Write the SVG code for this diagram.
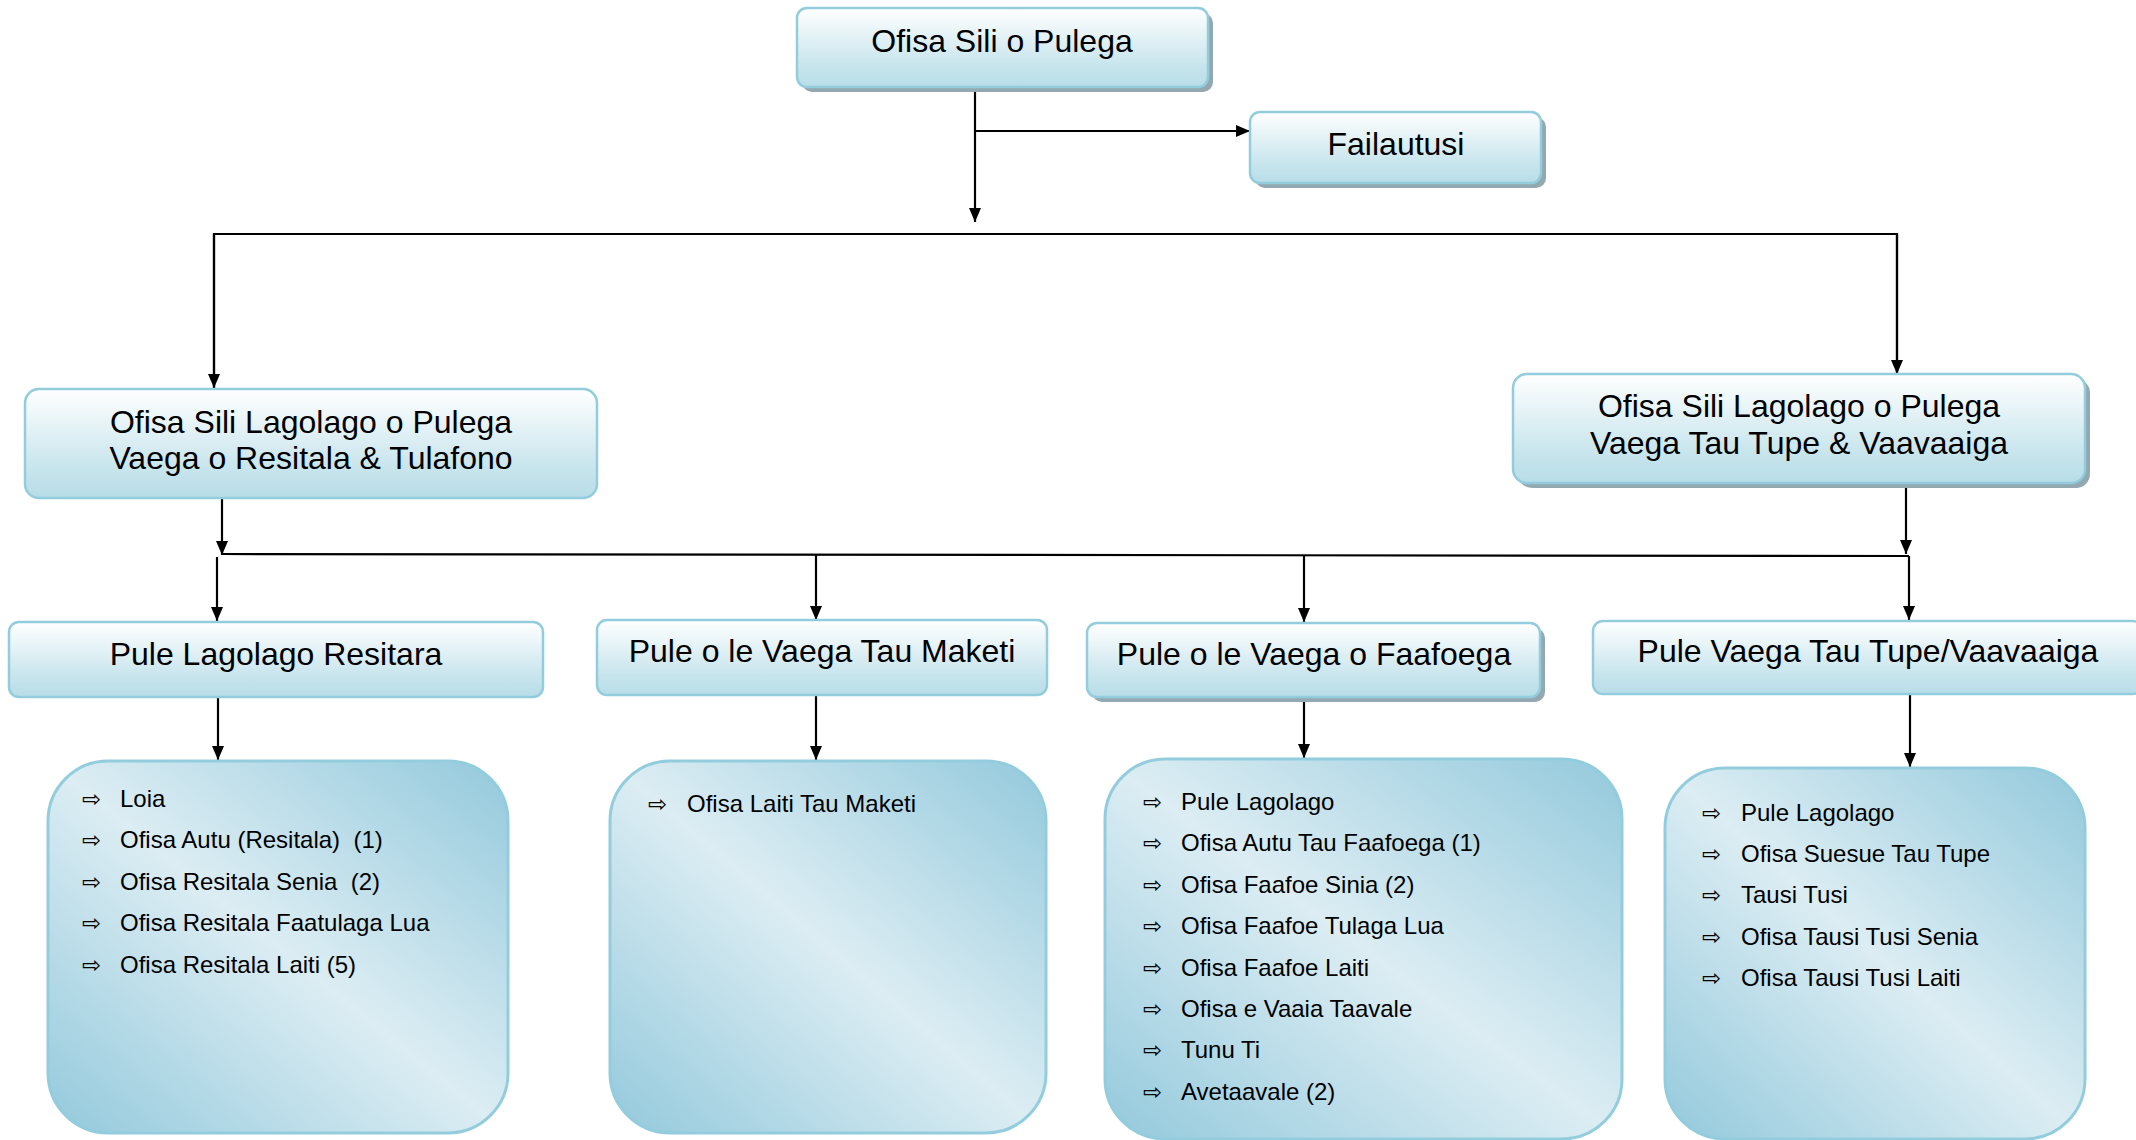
<svg xmlns="http://www.w3.org/2000/svg" width="2136" height="1140" viewBox="0 0 2136 1140">
<defs>
<linearGradient id="hg" x1="0" y1="0" x2="0" y2="1">
<stop offset="0" stop-color="#ffffff"/>
<stop offset="0.75" stop-color="#c6e4ec"/>
<stop offset="1" stop-color="#b8dde8"/>
</linearGradient>
<linearGradient id="lg" x1="1" y1="0" x2="0" y2="1">
<stop offset="0" stop-color="#93c9dc"/>
<stop offset="0.5" stop-color="#dcedf3"/>
<stop offset="1" stop-color="#93c9dc"/>
</linearGradient>
<marker id="ah" viewBox="0 0 14 12" refX="14" refY="6" markerWidth="14" markerHeight="12" markerUnits="userSpaceOnUse" orient="auto">
<path d="M0,0 L14,6 L0,12 z" fill="#000"/>
</marker>
</defs>
<style>
.hb{fill:url(#hg);stroke:#93cddd;stroke-width:2.5}
.sh{fill:#93a8b0}
.lb{fill:url(#lg);stroke:#93cddd;stroke-width:3}
.ht{font-family:"Liberation Sans",Arial,sans-serif;font-size:32px;fill:#000;text-anchor:middle}
.li{font-family:"Liberation Sans",Arial,sans-serif;font-size:24px;fill:#000;white-space:pre}
.bu{font-family:"DejaVu Sans",sans-serif;font-size:23px;fill:#000}
.cn{fill:none;stroke:#000;stroke-width:2.2}
.ar{marker-end:url(#ah)}
</style>
<rect width="2136" height="1140" fill="#ffffff"/>

<g id="connectors">
<line class="cn ar" x1="975" y1="87" x2="975" y2="222"/>
<line class="cn ar" x1="975" y1="131" x2="1250" y2="131"/>
<polyline class="cn" points="214,388 214,234 1897,234 1897,374"/>
<line class="cn ar" x1="214" y1="234" x2="214" y2="388"/>
<line class="cn ar" x1="1897" y1="234" x2="1897" y2="374"/>
<line class="cn ar" x1="222" y1="498" x2="222" y2="555"/>
<line class="cn ar" x1="1906" y1="485" x2="1906" y2="554"/>
<polyline class="cn" points="222,554 1909,556"/>
<line class="cn ar" x1="217" y1="557" x2="217" y2="621"/>
<line class="cn ar" x1="816" y1="555" x2="816" y2="620"/>
<line class="cn ar" x1="1304" y1="555" x2="1304" y2="622"/>
<line class="cn ar" x1="1909" y1="556" x2="1909" y2="620"/>
<line class="cn ar" x1="218" y1="698" x2="218" y2="760"/>
<line class="cn ar" x1="816" y1="695" x2="816" y2="760"/>
<line class="cn ar" x1="1304" y1="702" x2="1304" y2="758"/>
<line class="cn ar" x1="1910" y1="694" x2="1910" y2="767"/>
</g>

<g id="n-ofisa-sili">
<rect class="sh" x="802" y="13" width="411" height="79" rx="10"/>
<rect class="hb" x="797" y="8" width="411" height="79" rx="10"/>
<text class="ht" x="1002" y="52">Ofisa Sili o Pulega</text>
</g>

<g id="n-failautusi">
<rect class="sh" x="1255" y="117" width="291" height="71" rx="10"/>
<rect class="hb" x="1250" y="112" width="291" height="71" rx="10"/>
<text class="ht" x="1396" y="155">Failautusi</text>
</g>

<g id="n-lagolago-resitala">
<rect class="hb" x="25" y="389" width="572" height="109" rx="14"/>
<text class="ht" x="311" y="433">Ofisa Sili Lagolago o Pulega</text>
<text class="ht" x="311" y="469">Vaega o Resitala &amp; Tulafono</text>
</g>

<g id="n-lagolago-tupe">
<rect class="sh" x="1518" y="379" width="572" height="109" rx="14"/>
<rect class="hb" x="1513" y="374" width="572" height="109" rx="14"/>
<text class="ht" x="1799" y="417">Ofisa Sili Lagolago o Pulega</text>
<text class="ht" x="1799" y="454">Vaega Tau Tupe &amp; Vaavaaiga</text>
</g>

<g id="n-pule-resitara">
<rect class="hb" x="9" y="622" width="534" height="75" rx="10"/>
<text class="ht" x="276" y="665">Pule Lagolago Resitara</text>
</g>

<g id="n-pule-maketi">
<rect class="hb" x="597" y="620" width="450" height="75" rx="10"/>
<text class="ht" x="822" y="662">Pule o le Vaega Tau Maketi</text>
</g>

<g id="n-pule-faafoega">
<rect class="sh" x="1092" y="628" width="453" height="74" rx="10"/>
<rect class="hb" x="1087" y="623" width="453" height="74" rx="10"/>
<text class="ht" x="1314" y="665">Pule o le Vaega o Faafoega</text>
</g>

<g id="n-pule-tupe">
<rect class="hb" x="1593" y="621" width="550" height="73" rx="10"/>
<text class="ht" x="1868" y="662">Pule Vaega Tau Tupe/Vaavaaiga</text>
</g>

<g id="n-list-resitala">
<rect class="lb" x="48" y="761" width="460" height="372" rx="60"/>
<text class="bu" x="82" y="807">⇨</text><text class="li" x="120" y="807">Loia</text>
<text class="bu" x="82" y="848">⇨</text><text class="li" x="120" y="848">Ofisa Autu (Resitala)  (1)</text>
<text class="bu" x="82" y="890">⇨</text><text class="li" x="120" y="890">Ofisa Resitala Senia  (2)</text>
<text class="bu" x="82" y="931">⇨</text><text class="li" x="120" y="931">Ofisa Resitala Faatulaga Lua</text>
<text class="bu" x="82" y="973">⇨</text><text class="li" x="120" y="973">Ofisa Resitala Laiti (5)</text>
</g>

<g id="n-list-maketi">
<rect class="lb" x="610" y="761" width="436" height="372" rx="60"/>
<text class="bu" x="648" y="812">⇨</text><text class="li" x="687" y="812">Ofisa Laiti Tau Maketi</text>
</g>

<g id="n-list-faafoega">
<rect class="lb" x="1105" y="759" width="517" height="380" rx="60"/>
<text class="bu" x="1143" y="810">⇨</text><text class="li" x="1181" y="810">Pule Lagolago</text>
<text class="bu" x="1143" y="851">⇨</text><text class="li" x="1181" y="851">Ofisa Autu Tau Faafoega (1)</text>
<text class="bu" x="1143" y="893">⇨</text><text class="li" x="1181" y="893">Ofisa Faafoe Sinia (2)</text>
<text class="bu" x="1143" y="934">⇨</text><text class="li" x="1181" y="934">Ofisa Faafoe Tulaga Lua</text>
<text class="bu" x="1143" y="976">⇨</text><text class="li" x="1181" y="976">Ofisa Faafoe Laiti</text>
<text class="bu" x="1143" y="1017">⇨</text><text class="li" x="1181" y="1017">Ofisa e Vaaia Taavale</text>
<text class="bu" x="1143" y="1058">⇨</text><text class="li" x="1181" y="1058">Tunu Ti</text>
<text class="bu" x="1143" y="1100">⇨</text><text class="li" x="1181" y="1100">Avetaavale (2)</text>
</g>

<g id="n-list-tupe">
<rect class="lb" x="1665" y="768" width="420" height="371" rx="60"/>
<text class="bu" x="1702" y="821">⇨</text><text class="li" x="1741" y="821">Pule Lagolago</text>
<text class="bu" x="1702" y="862">⇨</text><text class="li" x="1741" y="862">Ofisa Suesue Tau Tupe</text>
<text class="bu" x="1702" y="903">⇨</text><text class="li" x="1741" y="903">Tausi Tusi</text>
<text class="bu" x="1702" y="945">⇨</text><text class="li" x="1741" y="945">Ofisa Tausi Tusi Senia</text>
<text class="bu" x="1702" y="986">⇨</text><text class="li" x="1741" y="986">Ofisa Tausi Tusi Laiti</text>
</g>
</svg>
